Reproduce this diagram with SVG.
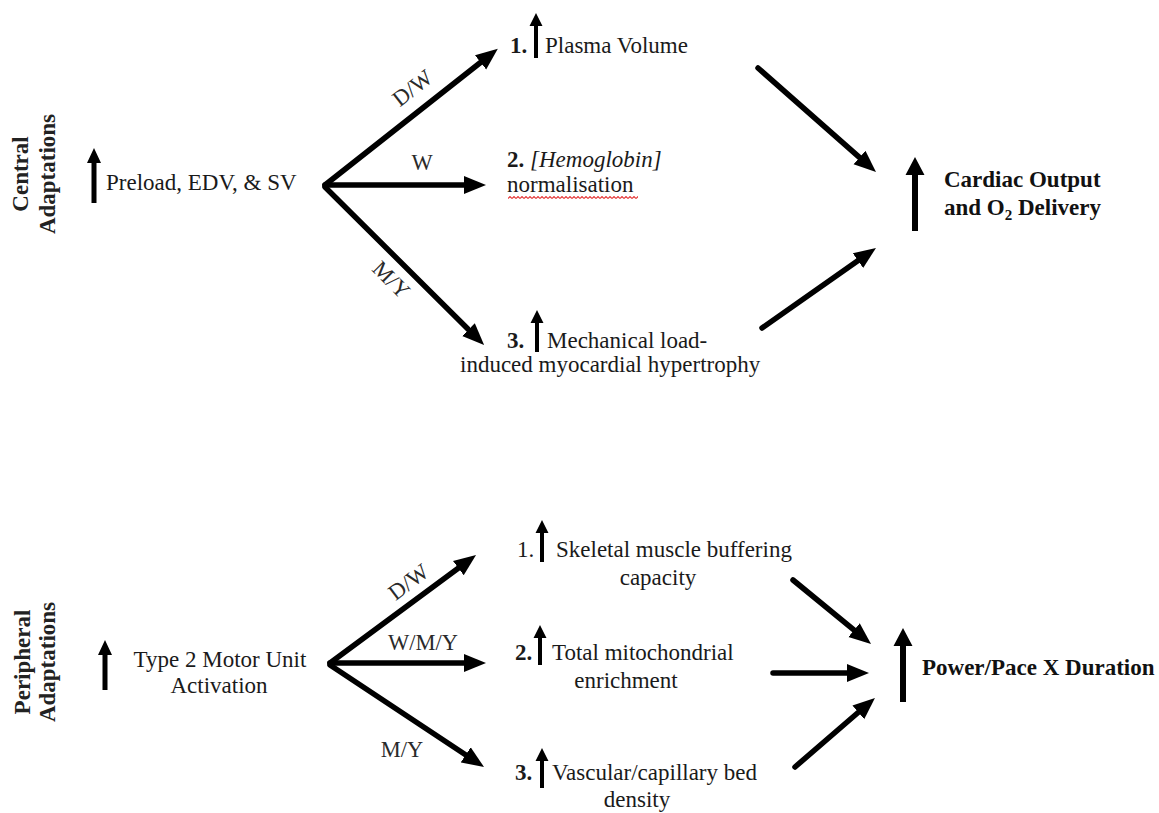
<svg xmlns="http://www.w3.org/2000/svg" width="1159" height="813" viewBox="0 0 1159 813">
<style>
text{font-family:"Liberation Serif","Times New Roman",serif;font-size:23px;fill:#1a1a1a}
.b{font-weight:bold;font-size:23px;fill:#111}
.side{font-weight:bold;font-size:23px;fill:#222}
.lbl{font-size:22.5px;fill:#2a2a2a}
.conn line{stroke:#000;stroke-width:5.5;stroke-linecap:round;marker-end:url(#ah)}
.up{fill:#000}
</style>
<defs>
<marker id="ah" markerUnits="userSpaceOnUse" markerWidth="23" markerHeight="20" refX="12" refY="10" orient="auto">
<path d="M0,1 L22,10 L0,19 z" fill="#000"/>
</marker>
<pattern id="wavy" width="4" height="3" patternUnits="userSpaceOnUse" x="508" y="196">
<path d="M0,2.5 L2,0.5 L4,2.5" fill="none" stroke="#e53a3a" stroke-width="1.1"/>
</pattern>
</defs>
<rect width="1159" height="813" fill="#fff"/>

<g id="central-label">
<text class="side" text-anchor="middle" transform="translate(28,174) rotate(-90)">Central</text>
<text class="side" text-anchor="middle" transform="translate(55,174) rotate(-90)">Adaptations</text>
</g>

<g id="preload">
<polygon class="up" points="94,148 101,163 96.5,163 96.5,203 91.5,203 91.5,163 87,163"/>
<text x="106" y="190">Preload, EDV, &amp; SV</text>
</g>

<g id="plasma">
<text x="510" y="53"><tspan font-weight="bold">1.</tspan></text>
<polygon class="up" points="536,13 542.5,26 538,26 538,58 534,58 534,26 529.5,26"/>
<text x="545" y="53">Plasma Volume</text>
</g>

<g id="hemoglobin">
<text x="507" y="167"><tspan font-weight="bold">2.</tspan> <tspan font-style="italic">[Hemoglobin]</tspan></text>
<text x="507" y="192">normalisation</text>
<rect x="508" y="196" width="130" height="3" fill="url(#wavy)"/>
</g>

<g id="hypertrophy">
<text x="507" y="348"><tspan font-weight="bold">3.</tspan></text>
<polygon class="up" points="537,310 543.5,323 539,323 539,352 535,352 535,323 530.5,323"/>
<text x="547" y="348">Mechanical load-</text>
<text x="460" y="372">induced myocardial hypertrophy</text>
</g>

<g id="cardiac">
<polygon class="up" points="915,157 924.5,175 918,175 918,231 912,231 912,175 905.5,175"/>
<text class="b" x="944" y="187">Cardiac Output</text>
<text class="b" x="944" y="215">and O<tspan font-size="15" dy="5">2</tspan><tspan dy="-5"> Delivery</tspan></text>
</g>

<g id="peripheral-label">
<text class="side" text-anchor="middle" transform="translate(30,662) rotate(-90)">Peripheral</text>
<text class="side" text-anchor="middle" transform="translate(55,662) rotate(-90)">Adaptations</text>
</g>

<g id="type2">
<polygon class="up" points="105,640 112,655 107.5,655 107.5,690 102.5,690 102.5,655 98,655"/>
<text x="220" y="667" text-anchor="middle">Type 2 Motor Unit</text>
<text x="219" y="693" text-anchor="middle">Activation</text>
</g>

<g id="buffering">
<text x="517" y="557">1.</text>
<polygon class="up" points="542,520 548.5,533 544,533 544,562 540,562 540,533 535.5,533"/>
<text x="556" y="557">Skeletal muscle buffering</text>
<text x="658" y="585" text-anchor="middle">capacity</text>
</g>

<g id="mitochondrial">
<text x="515" y="660"><tspan font-weight="bold">2.</tspan></text>
<polygon class="up" points="540,625 546.5,638 542,638 542,665 538,665 538,638 533.5,638"/>
<text x="552" y="660">Total mitochondrial</text>
<text x="626" y="688" text-anchor="middle">enrichment</text>
</g>

<g id="vascular">
<text x="515" y="780"><tspan font-weight="bold">3.</tspan></text>
<polygon class="up" points="542,748 548.5,761 544,761 544,788 540,788 540,761 535.5,761"/>
<text x="552" y="780">Vascular/capillary bed</text>
<text x="637" y="807" text-anchor="middle">density</text>
</g>

<g id="power">
<polygon class="up" points="903,628 912.5,646 906,646 906,702 900,702 900,646 893.5,646"/>
<text class="b" x="922" y="675">Power/Pace X Duration</text>
</g>

<g id="connectors" class="conn">
<line x1="325" y1="185" x2="490" y2="55"/>
<line x1="325" y1="185" x2="476" y2="185"/>
<line x1="325" y1="187" x2="477" y2="338"/>
<line x1="758" y1="68" x2="868.5" y2="165.4"/>
<line x1="762" y1="328" x2="867.8" y2="253.7"/>
<line x1="330" y1="663" x2="468" y2="561"/>
<line x1="330" y1="663" x2="476" y2="663"/>
<line x1="330" y1="665" x2="475.7" y2="761.5"/>
<line x1="793" y1="580" x2="863.3" y2="637.7"/>
<line x1="773" y1="673" x2="859" y2="673"/>
<line x1="795" y1="767" x2="867.4" y2="704.5"/>
</g>

<g id="connector-labels">
<text class="lbl" text-anchor="middle" transform="translate(417,94) rotate(-38)">D/W</text>
<text class="lbl" x="422" y="170" text-anchor="middle">W</text>
<text class="lbl" text-anchor="middle" transform="translate(386,285) rotate(45)">M/Y</text>
<text class="lbl" text-anchor="middle" transform="translate(413,588) rotate(-37)">D/W</text>
<text class="lbl" x="423" y="650" text-anchor="middle">W/M/Y</text>
<text class="lbl" x="402" y="757" text-anchor="middle">M/Y</text>
</g>
</svg>
